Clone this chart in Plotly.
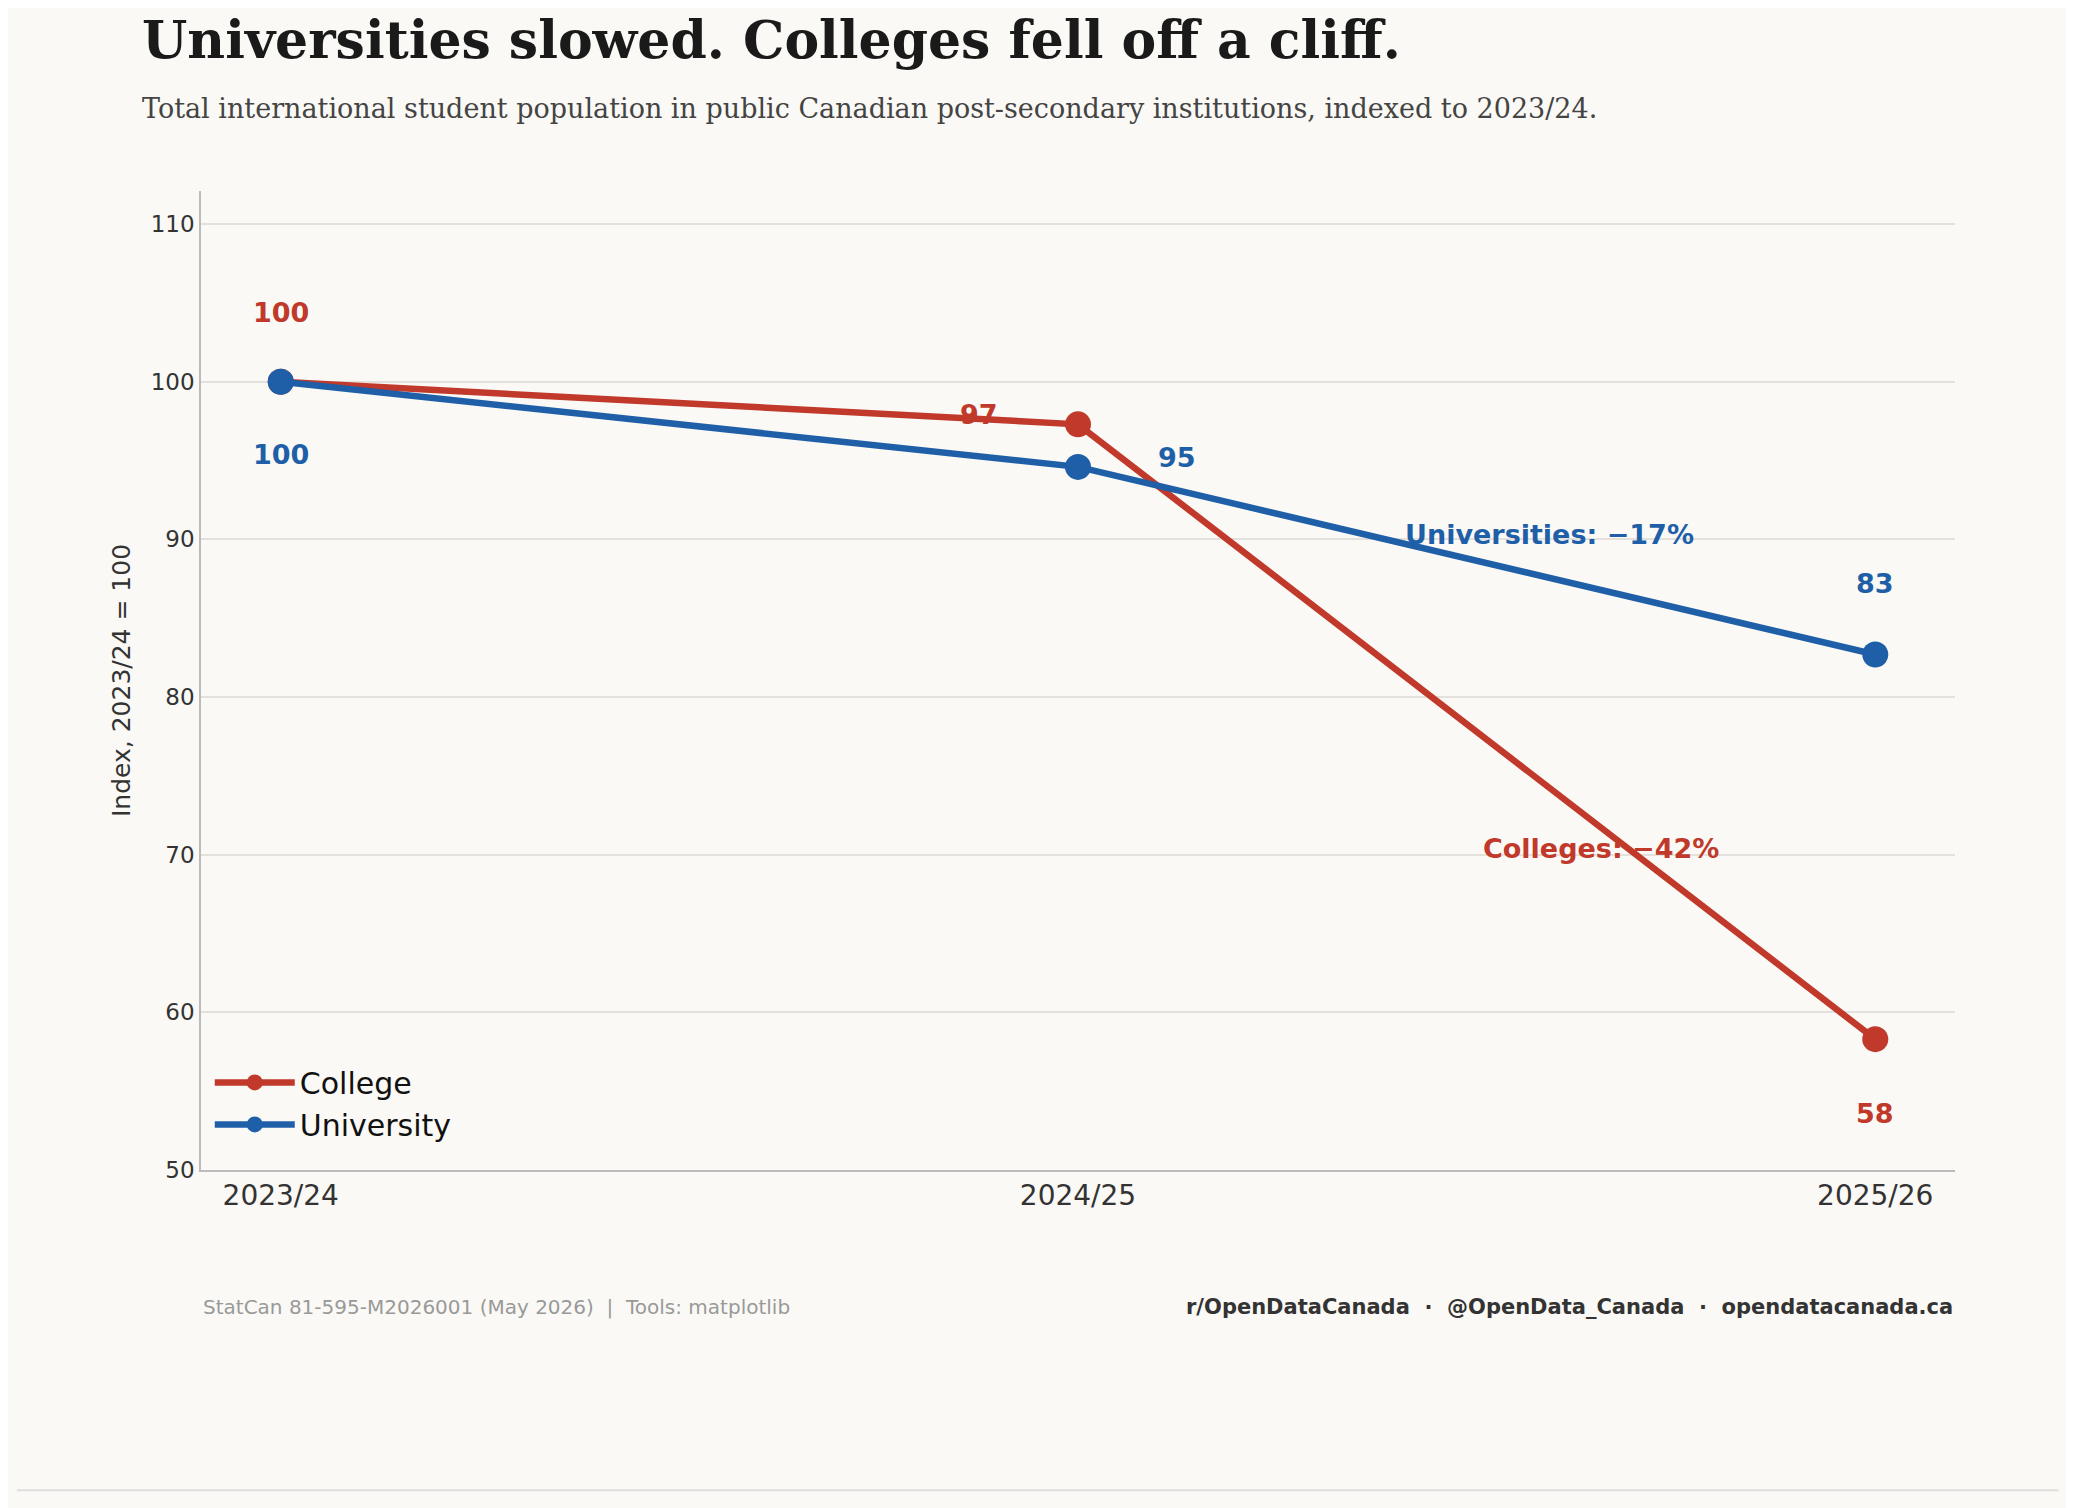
import plotly.graph_objects as go

periods = ["2023/24", "2024/25", "2025/26"]
college = [100, 97.3, 58.3]
university = [100, 94.6, 82.7]
RED = "#c0392b"
BLUE = "#1f5fa8"
BG = "#faf9f5"

x = [0, 1, 2]
fig = go.Figure()
fig.add_trace(go.Scatter(x=x, y=college, name="College", mode="lines+markers",
                         line=dict(color=RED, width=6.5), marker=dict(size=26, color=RED)))
fig.add_trace(go.Scatter(x=x, y=university, name="University", mode="lines+markers",
                         line=dict(color=BLUE, width=6.5), marker=dict(size=26, color=BLUE)))

fig.add_shape(type="line", xref="paper", x0=0, x1=1, y0=100, y1=100,
              line=dict(color="#ddd6cc", width=1.5, dash="dash"), layer="below")

bf = "DejaVu Sans"
def ann(xv, yv, t, c):
    fig.add_annotation(x=xv, y=yv, text=f"<b>{t}</b>", showarrow=False,
                       font=dict(family=bf, size=27, color=c))
ann(0, 104.4, "100", RED)
ann(0, 95.4, "100", BLUE)
ann(0.876, 97.9, "97", RED)
ann(1.124, 95.2, "95", BLUE)
ann(1.592, 90.3, "Universities: −17%", BLUE)
ann(1.656, 70.4, "Colleges: −42%", RED)
ann(2, 87.2, "83", BLUE)
ann(2, 53.6, "58", RED)

fig.add_annotation(xref="paper", yref="paper", x=-0.035, y=1.0, xanchor="left", yanchor="bottom",
                   text="<b>Universities slowed. Colleges fell off a cliff.</b>", showarrow=False,
                   font=dict(family="DejaVu Serif", size=52, color="#1a1a1a"), yshift=119)
fig.add_annotation(xref="paper", yref="paper", x=-0.035, y=1.0, xanchor="left", yanchor="bottom",
                   text="Total international student population in public Canadian post-secondary institutions, indexed to 2023/24.",
                   showarrow=False, font=dict(family="DejaVu Serif", size=27, color="#444"), yshift=65)
fig.add_annotation(xref="paper", yref="paper", x=0, y=0, xanchor="left", yanchor="middle",
                   text="StatCan 81-595-M2026001 (May 2026)  |  Tools: matplotlib", showarrow=False,
                   font=dict(family=bf, size=20, color="#999"), yshift=-137)
fig.add_annotation(xref="paper", yref="paper", x=1, y=0, xanchor="right", yanchor="middle",
                   text="<b>r/OpenDataCanada  ·  @OpenData_Canada  ·  opendatacanada.ca</b>", showarrow=False,
                   font=dict(family=bf, size=21, color="#333"), yshift=-137)
fig.add_shape(type="line", xref="paper", yref="paper", x0=-0.105, x1=1.059, y0=-0.327, y1=-0.327,
              line=dict(color="#dddddd", width=2))

fig.update_layout(
    width=2074, height=1508, paper_bgcolor=BG, plot_bgcolor=BG,
    margin=dict(l=193, r=127, t=183, b=346),
    font=dict(family=bf, color="#333"),
    showlegend=True,
    legend=dict(x=0.005, y=0.02, xanchor="left", yanchor="bottom", bgcolor="rgba(0,0,0,0)",
                font=dict(size=30, color="#111"), itemwidth=80, tracegroupgap=4),
    xaxis=dict(range=[-0.1, 2.1], tickvals=x, ticktext=periods, showgrid=False, zeroline=False,
               showline=True, linecolor="#bbbbbb", linewidth=1.5, ticks="",
               tickfont=dict(size=28, color="#333")),
    yaxis=dict(range=[50, 112.1], tickvals=[50, 60, 70, 80, 90, 100, 110], showgrid=True,
               gridcolor="#e4e1dc", gridwidth=1.5, zeroline=False, showline=True,
               linecolor="#bbbbbb", linewidth=1.5, ticks="", tickfont=dict(size=23, color="#333"),
               title=dict(text="Index, 2023/24 = 100", font=dict(size=25, color="#333"), standoff=13)),
)
fig.write_html("out.html")
